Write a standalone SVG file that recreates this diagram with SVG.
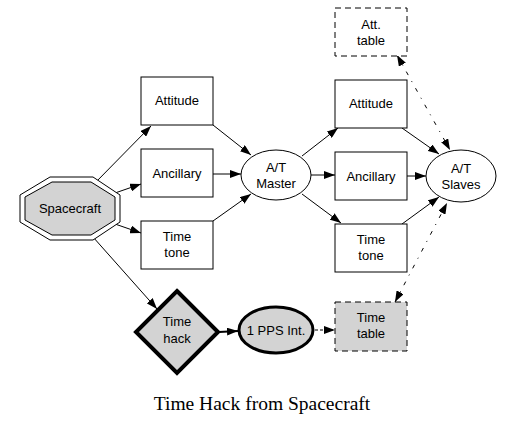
<svg xmlns="http://www.w3.org/2000/svg" width="516" height="425" viewBox="0 0 516 425">
<defs>
<marker id="ah" viewBox="0 0 11 8" refX="11" refY="4" markerWidth="11" markerHeight="8" markerUnits="userSpaceOnUse" orient="auto-start-reverse"><path d="M0,0 L11,4 L0,8 z" fill="#000"/></marker>
</defs>
<style>
text{font-family:"Liberation Sans",Arial,sans-serif;font-size:13px;fill:#000;text-anchor:middle}
.box{fill:#fff;stroke:#000;stroke-width:1}
.edge{fill:none;stroke:#000;stroke-width:1;marker-end:url(#ah)}
.dd{fill:none;stroke:#000;stroke-width:1;stroke-dasharray:4 7 1 7;marker-start:url(#ah);marker-end:url(#ah)}
.grey{fill:#d3d3d3}
.cap{font-family:"Liberation Serif","Times New Roman",serif;font-size:19.5px}
</style>
<rect width="516" height="425" fill="#fff"/>
<g id="connectors">
<line class="edge" x1="95" y1="183" x2="151" y2="126"/>
<line class="edge" x1="115" y1="193" x2="141" y2="184"/>
<line class="edge" x1="115" y1="224" x2="141" y2="233"/>
<line class="edge" x1="93" y1="237" x2="157" y2="309"/>
<line class="edge" x1="213" y1="125" x2="251" y2="155"/>
<line class="edge" x1="213" y1="174" x2="241" y2="174"/>
<line class="edge" x1="213" y1="221" x2="251" y2="194"/>
<line class="edge" x1="302" y1="156" x2="338" y2="128"/>
<line class="edge" x1="311" y1="175" x2="335" y2="175"/>
<line class="edge" x1="302" y1="194" x2="341" y2="223"/>
<line class="edge" x1="402" y1="128" x2="439" y2="154"/>
<line class="edge" x1="407" y1="176" x2="426" y2="176"/>
<line class="edge" x1="402" y1="224" x2="439" y2="197"/>
<line class="dd" x1="397" y1="55" x2="450" y2="150"/>
<line class="dd" x1="395" y1="302" x2="447" y2="203"/>
<line class="edge" x1="219" y1="332" x2="238" y2="331" style="stroke-width:2"/>
<line class="edge" x1="315" y1="330" x2="335" y2="330" style="stroke-dasharray:3 2"/>
</g>
<g id="spacecraft">
<polygon points="50,177 93,177 120,195 120,222 93,240 50,240 20,222 20,195" fill="#fff" stroke="#000"/>
<polygon points="52,182 91,182 115,197 115,220 91,235 52,235 25,220 25,197" class="grey" stroke="#000"/>
<text x="70" y="213">Spacecraft</text>
</g>
<g id="attitude1"><rect class="box" x="141" y="77" width="72" height="48"/><text x="177" y="105">Attitude</text></g>
<g id="ancillary1"><rect class="box" x="141" y="149" width="72" height="48"/><text x="177" y="178">Ancillary</text></g>
<g id="timetone1"><rect class="box" x="141" y="221" width="72" height="48"/><text x="177" y="241">Time</text><text x="177" y="257">tone</text></g>
<g id="master"><ellipse cx="276" cy="175" rx="35" ry="25" fill="#fff" stroke="#000"/><text x="276" y="172">A/T</text><text x="276" y="188">Master</text></g>
<g id="atttable"><rect class="box" x="335" y="8" width="72" height="48" style="stroke-dasharray:6 4"/><text x="371" y="29">Att.</text><text x="371" y="45">table</text></g>
<g id="attitude2"><rect class="box" x="335" y="80" width="72" height="48"/><text x="371" y="108">Attitude</text></g>
<g id="ancillary2"><rect class="box" x="335" y="152" width="72" height="48"/><text x="371" y="181">Ancillary</text></g>
<g id="timetone2"><rect class="box" x="335" y="224" width="72" height="48"/><text x="371" y="244">Time</text><text x="371" y="260">tone</text></g>
<g id="slaves"><ellipse cx="461" cy="176" rx="35" ry="26" fill="#fff" stroke="#000"/><text x="461" y="173">A/T</text><text x="461" y="189">Slaves</text></g>
<g id="timehack"><polygon points="177,291 218,332 177,373 136,332" class="grey" stroke="#000" stroke-width="4"/><text x="177" y="326">Time</text><text x="177" y="343">hack</text></g>
<g id="pps"><ellipse cx="276" cy="330" rx="37" ry="23" class="grey" stroke="#000" stroke-width="3"/><text x="276" y="335">1 PPS Int.</text></g>
<g id="timetable"><rect class="grey" x="335" y="302" width="72" height="49" stroke="#000" stroke-dasharray="6 4"/><text x="371" y="322">Time</text><text x="371" y="338">table</text></g>
<text class="cap" x="262" y="410">Time Hack from Spacecraft</text>
</svg>
